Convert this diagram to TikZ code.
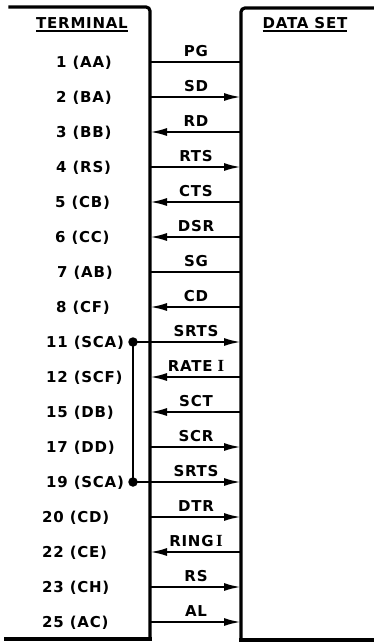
\documentclass[tikz,border=0pt]{standalone}
\usepackage{fontspec}
\newfontfamily\lblfont{DejaVu Sans}[LetterSpace=5]
\newfontfamily\romfont{Liberation Serif}
\usetikzlibrary{arrows.meta}
\tikzset{
  boxline/.style={line width=3.2pt, line cap=rect, rounded corners=4pt},
  sigline/.style={line width=2.2pt},
  sigright/.style={sigline, -{Latex[length=17pt,width=8pt]}},
  sigleft/.style={sigline, {Latex[length=17pt,width=8pt]}-},
  txt/.style={inner sep=0pt, font=\lblfont\bfseries\fontsize{15}{17}\selectfont},
  pinlbl/.style={txt, anchor=west},
  siglbl/.style={txt},
  ttl/.style={txt},
  uline/.style={line width=1.8pt},
  dotnode/.style={circle, fill=black, inner sep=0pt, minimum size=9.5pt}
}
\newcommand{\romI}{{\romfont\fontsize{17}{17}\selectfont I}}
\begin{document}
\begin{tikzpicture}[x=1pt,y=-1pt]
\useasboundingbox (0,0) rectangle (374,642);
% boxes
\draw[boxline] (10,7) -- (150,7) -- (150,639);
\draw[line width=3.2pt] (151.6,639) -- (4,639);
\draw[boxline] (374,8) -- (241,8) -- (241,640);
\draw[line width=3.2pt] (239.4,640) -- (374,640);
% titles
\node[ttl] (tterm) at (82,23) {TERMINAL};
\draw[uline] ([yshift=-2pt]tterm.south west) -- ([yshift=-2pt]tterm.south east);
\node[ttl] (tdata) at (305,23) {DATA SET};
\draw[uline] ([yshift=-2pt]tdata.south west) -- ([yshift=-2pt]tdata.south east);
% signal endpoints
\foreach \i in {0,...,16}{
  \pgfmathsetmacro{\yy}{62+35*\i}
  \coordinate (t\i) at (150,\yy);
  \coordinate (d\i) at (241,\yy);
}
% pin labels
\foreach \i/\xx/\txt in {0/56/1 (AA),1/56/2 (BA),2/56/3 (BB),3/56/4 (RS),4/55/5 (CB),5/55/6 (CC),6/57/7 (AB),7/56/8 (CF),8/46/11 (SCA),9/46/12 (SCF),10/46/15 (DB),11/46/17 (DD),12/46/19 (SCA),13/42/20 (CD),14/42/22 (CE),15/42/23 (CH),16/42/25 (AC)}{
  \node[pinlbl] (p\i) at (\xx,{63+35*\i}) {\txt};
}
% signal labels
\foreach \i/\txt in {0/PG,1/SD,2/RD,3/RTS,4/CTS,5/DSR,6/SG,7/CD,8/SRTS,9/{RATE\hspace{5pt}\romI},10/SCT,11/SCR,12/SRTS,13/DTR,14/{RING\,\romI},15/RS,16/AL}{
  \node[siglbl] (s\i) at ({196},{51+35*\i}) {\txt};
}
% connectors
\draw[sigline] (t0) -- (d0);
\draw[sigright] (t1) -- (d1);
\draw[sigleft] (t2) -- (d2);
\draw[sigright] (t3) -- (d3);
\draw[sigleft] (t4) -- (d4);
\draw[sigleft] (t5) -- (d5);
\draw[sigline] (t6) -- (d6);
\draw[sigleft] (t7) -- (d7);
\draw[sigright] (t8) -- (d8);
\draw[sigleft] (t9) -- (d9);
\draw[sigleft] (t10) -- (d10);
\draw[sigright] (t11) -- (d11);
\draw[sigright] (t12) -- (d12);
\draw[sigright] (t13) -- (d13);
\draw[sigleft] (t14) -- (d14);
\draw[sigright] (t15) -- (d15);
\draw[sigright] (t16) -- (d16);
% SCA strap
\node[dotnode] (dotA) at (133,342) {};
\node[dotnode] (dotB) at (133,482) {};
\draw[sigline] (dotA.center) -- (t8);
\draw[sigline] (dotB.center) -- (t12);
\draw[sigline] (dotA.center) -- (dotB.center);
\end{tikzpicture}
\end{document}
